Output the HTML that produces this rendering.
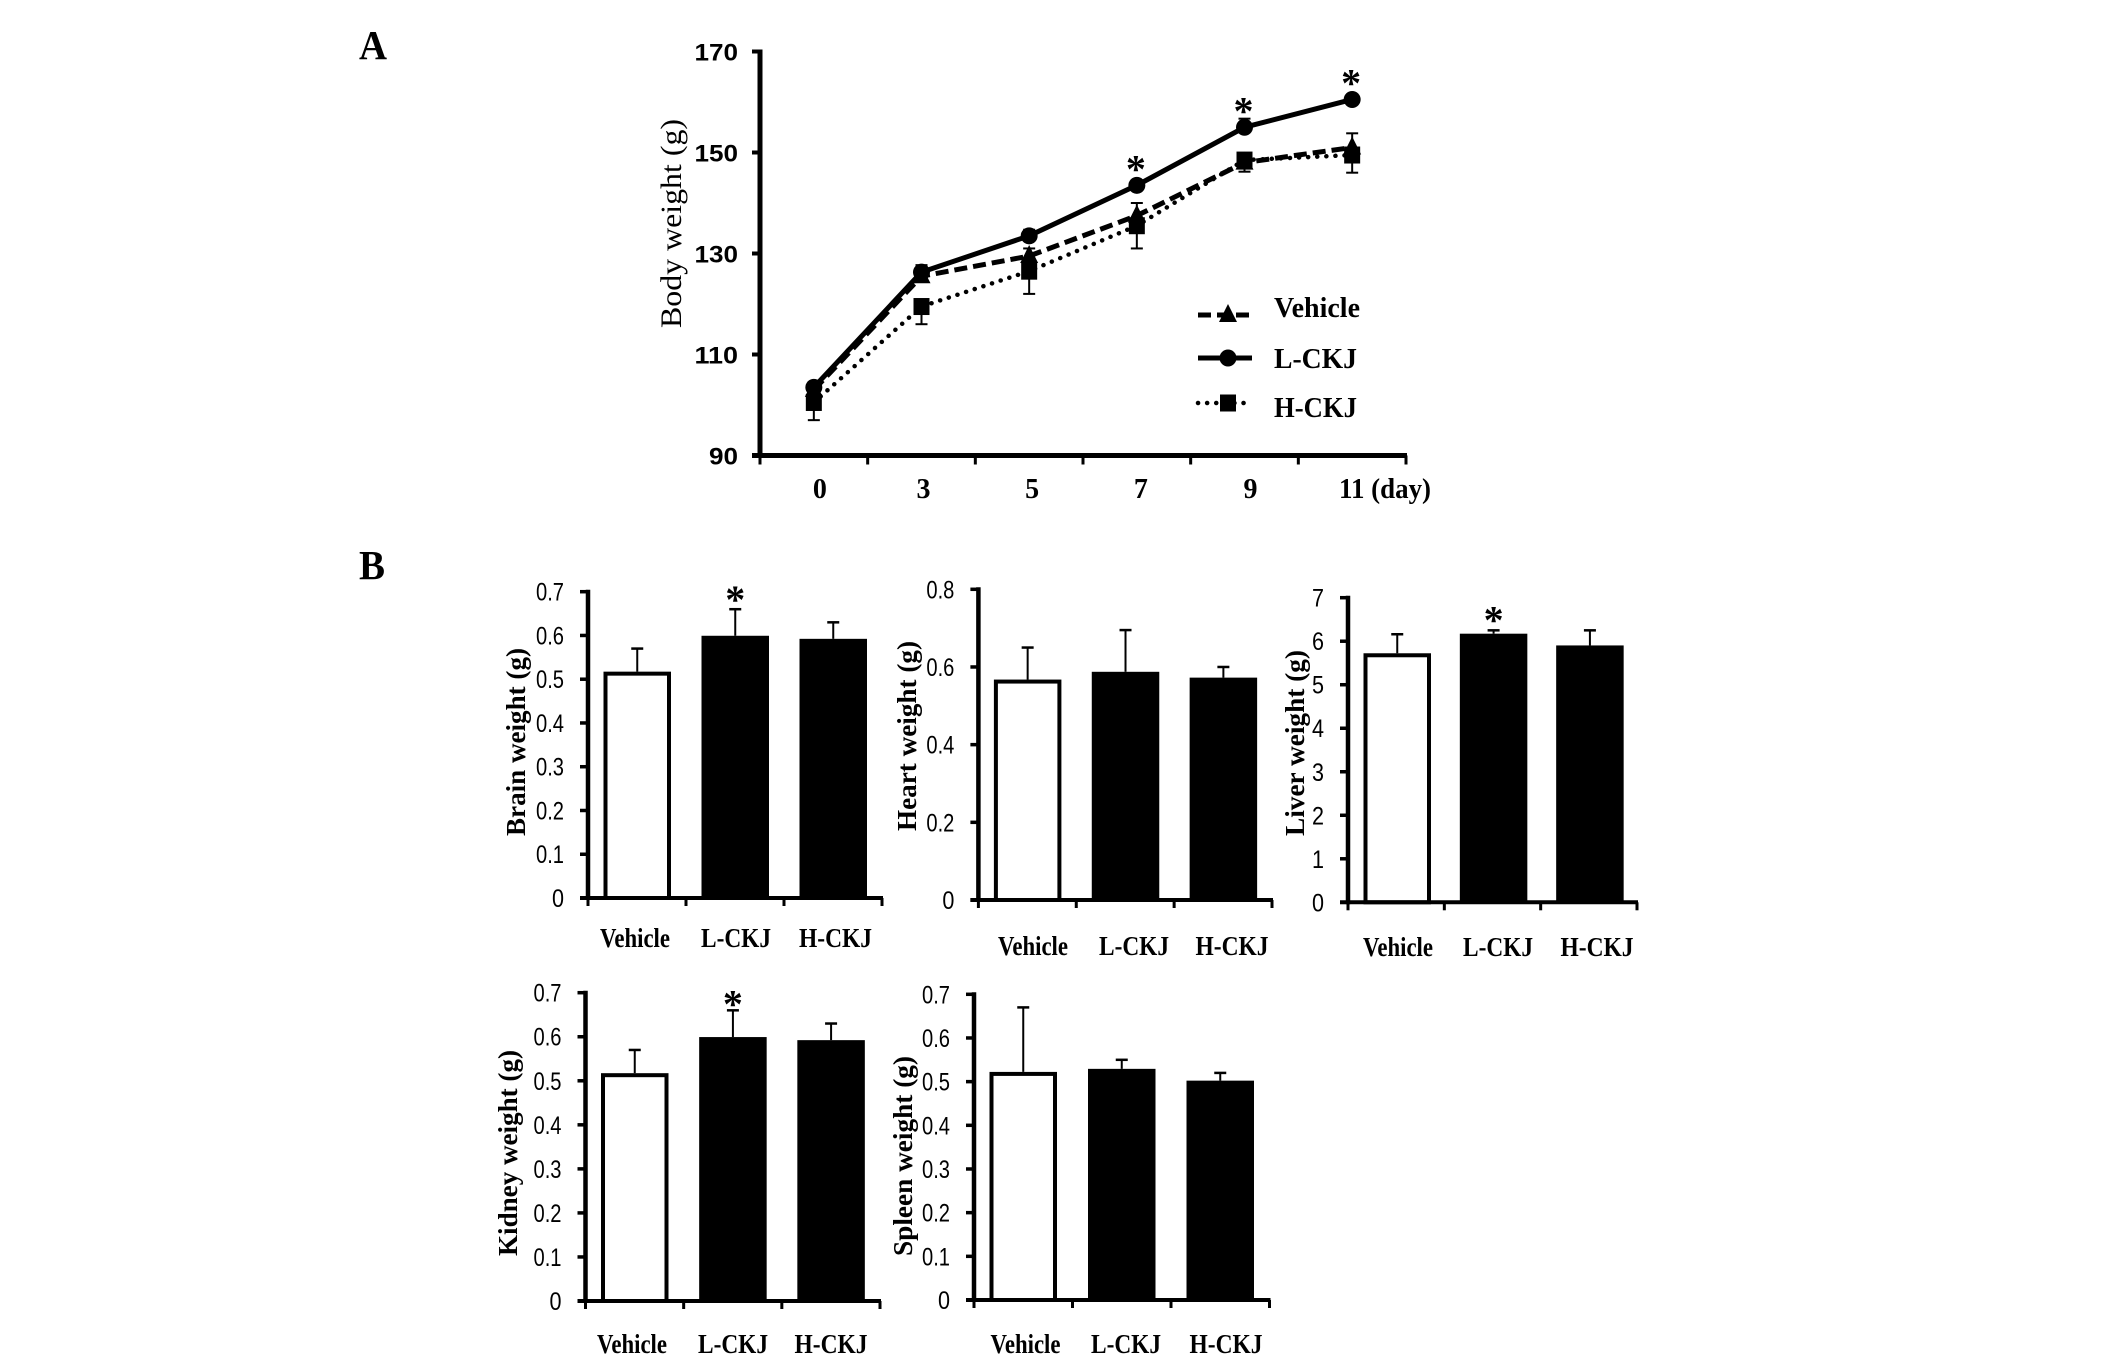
<!DOCTYPE html>
<html>
<head>
<meta charset="utf-8">
<title>Body and organ weight charts</title>
<style>
html,body{margin:0;padding:0;background:#fff;width:2126px;height:1363px;overflow:hidden}
svg{display:block}
text{fill:#000}
.serif{font-family:"Liberation Serif",serif}
.sans{font-family:"Liberation Sans",sans-serif}
</style>
</head>
<body>
<svg id="figure" xmlns="http://www.w3.org/2000/svg" width="2126" height="1363" viewBox="0 0 2126 1363">
  <rect width="2126" height="1363" fill="#fff"/>
  <text class="serif" x="359" y="59" font-size="41" font-weight="bold" textLength="28" lengthAdjust="spacingAndGlyphs">A</text>
  <text class="serif" x="359" y="579" font-size="41" font-weight="bold" textLength="26" lengthAdjust="spacingAndGlyphs">B</text>
</svg>
<script>
// ---- Panel A data ----
const lineCategories = ['0', '3', '5', '7', '9', '11 (day)'];
const lineTickLabels = ['90', '110', '130', '150', '170'];
const lineTickValues = [90, 110, 130, 150, 170];
const vehicleWeights = [103, 125.5, 129.5, 137.5, 148, 151];
const vehicleErrors = [1.5, 2.2, 1.5, 2.5, 1.8, 2.8];
const lckjWeights = [103.5, 126.3, 133.5, 143.5, 155, 160.5];
const lckjErrors = [1, 1, 1.2, 1, 1.7, 1];
const hckjWeights = [100.5, 119.5, 126.5, 135.5, 148.5, 149.5];
const hckjErrors = [3.5, 3.5, 4.5, 4.5, 2.3, 3.5];
const lineSignificant = [false, false, false, true, true, true];

// ---- Panel B data ----
const barCategories = ['Vehicle', 'L-CKJ', 'H-CKJ'];
const ticks07 = ['0', '0.1', '0.2', '0.3', '0.4', '0.5', '0.6', '0.7'];
const ticks08 = ['0', '0.2', '0.4', '0.6', '0.8'];
const ticks7 = ['0', '1', '2', '3', '4', '5', '6', '7'];
const brainValues = [0.515, 0.597, 0.59];
const brainErrors = [0.055, 0.063, 0.04];
const brainStars = [false, true, false];
const heartValues = [0.565, 0.585, 0.57];
const heartErrors = [0.085, 0.11, 0.03];
const heartStars = [false, false, false];
const liverValues = [5.7, 6.15, 5.88];
const liverErrors = [0.46, 0.1, 0.37];
const liverStars = [false, true, false];
const kidneyValues = [0.515, 0.597, 0.59];
const kidneyErrors = [0.055, 0.063, 0.04];
const kidneyStars = [false, true, false];
const spleenValues = [0.52, 0.527, 0.5];
const spleenErrors = [0.15, 0.023, 0.02];
const spleenStars = [false, false, false];

const svg = document.getElementById('figure');

function mk(parent, tag, attrs, name, text) {
  const el = document.createElementNS('http://www.w3.org/2000/svg', tag);
  for (const k in attrs) el.setAttribute(k, attrs[k]);
  
  
  if (text !== undefined) el.textContent = text;
  parent.appendChild(el);
  return el;
}
function line(parent, x1, y1, x2, y2, w, name) {
  return mk(parent, 'line', { x1, y1, x2, y2, stroke: '#000', 'stroke-width': w }, name);
}
function star(parent, x, cy, name) {
  return mk(parent, 'text', { class: 'serif', x, y: cy + 19, 'font-size': 40, 'font-weight': 'bold', 'text-anchor': 'middle' }, name, '*');
}

// ---- Panel A ----
(function drawLineChart() {
  const g = mk(svg, 'g', {}, 'body-weight-chart');
  const axisX = 760, right = 1406, yTop = 51.5, yBottom = 455.5;
  const step = (right - axisX) / lineCategories.length;
  const sx = i => axisX + step * (i + 0.5);
  const sy = v => yBottom - (v - lineTickValues[0]) / (lineTickValues[lineTickValues.length - 1] - lineTickValues[0]) * (yBottom - yTop);

  line(g, axisX, yTop - 2, axisX, yBottom + 2, 5, 'y-axis');
  line(g, axisX - 8, yBottom, right + 1, yBottom, 5, 'x-axis');
  lineTickValues.forEach((v, i) => {
    line(g, axisX - 8, sy(v), axisX, sy(v), 4, 'y-tick');
    mk(g, 'text', { class: 'sans', x: 738, y: sy(v) + 9, 'font-size': 24, 'font-weight': 'bold', 'text-anchor': 'end', textLength: lineTickLabels[i].length * 14.5, lengthAdjust: 'spacingAndGlyphs' }, 'y-tick-label', lineTickLabels[i]);
  });
  for (let i = 0; i <= lineCategories.length; i++) {
    line(g, axisX + step * i, yBottom, axisX + step * i, yBottom + 9, 3, 'x-tick');
  }
  const labelNudge = [6, 2, 3, 4, 6];
  lineCategories.forEach((c, i) => {
    const isLast = i === lineCategories.length - 1;
    const attrs = { class: 'serif', x: isLast ? 1339 : sx(i) + labelNudge[i], y: 498, 'font-size': 28, 'font-weight': 'bold', 'text-anchor': isLast ? 'start' : 'middle' };
    if (isLast) { attrs.textLength = 92; attrs.lengthAdjust = 'spacingAndGlyphs'; }
    mk(g, 'text', attrs, 'x-tick-label', c);
  });
  mk(g, 'text', { class: 'serif', transform: 'translate(681,328) rotate(-90)', x: 0, y: 0, 'font-size': 30, textLength: 209, lengthAdjust: 'spacingAndGlyphs' }, 'y-axis-title', 'Body weight (g)');

  const series = [
    { name: 'vehicle', values: vehicleWeights, errors: vehicleErrors, dir: 1, dash: '13 6', width: 5, cap: 'butt', marker: 'tri' },
    { name: 'h-ckj', values: hckjWeights, errors: hckjErrors, dir: -1, dash: '0.1 9', width: 4.5, cap: 'round', marker: 'sq' },
    { name: 'l-ckj', values: lckjWeights, errors: lckjErrors, dir: 1, dash: 'none', width: 5, cap: 'butt', marker: 'circ' }
  ];
  function marker(parent, type, x, y, name) {
    if (type === 'circ') return mk(parent, 'circle', { cx: x, cy: y, r: 8.5 }, name);
    if (type === 'sq') return mk(parent, 'rect', { x: x - 8, y: y - 8.5, width: 16, height: 17 }, name);
    return mk(parent, 'polygon', { points: `${x},${y - 11} ${x + 9},${y + 7} ${x - 9},${y + 7}` }, name);
  }
  series.forEach(s => {
    const sg = mk(g, 'g', {}, 'series-' + s.name);
    s.values.forEach((v, i) => {
      const y1 = sy(v), y2 = sy(v + s.dir * s.errors[i]);
      line(sg, sx(i), y1, sx(i), y2, 2, 'error-bar');
      line(sg, sx(i) - 6, y2, sx(i) + 6, y2, 2, 'error-cap');
    });
    const pts = s.values.map((v, i) => sx(i) + ',' + sy(v)).join(' ');
    mk(sg, 'polyline', { points: pts, fill: 'none', stroke: '#000', 'stroke-width': s.width, 'stroke-dasharray': s.dash, 'stroke-linecap': s.cap }, 'line-' + s.name);
    s.values.forEach((v, i) => marker(sg, s.marker, sx(i), sy(v), 'point-' + s.name));
  });
  lineSignificant.forEach((sig, i) => {
    if (sig) star(g, sx(i) - 1, sy(lckjWeights[i]) - 22, 'significance-star');
  });

  const legendRows = [
    { label: 'Vehicle', y: 315, textY: 317, dash: '13 6', width: 5, cap: 'butt', marker: 'tri', name: 'vehicle' },
    { label: 'L-CKJ', y: 358, textY: 368, dash: 'none', width: 5, cap: 'butt', marker: 'circ', name: 'l-ckj' },
    { label: 'H-CKJ', y: 403, textY: 417, dash: '0.1 9', width: 4.5, cap: 'round', marker: 'sq', name: 'h-ckj' }
  ];
  legendRows.forEach(r => {
    const lg = mk(g, 'g', {}, 'legend-entry-' + r.name);
    mk(lg, 'line', { x1: 1198, y1: r.y, x2: 1252, y2: r.y, stroke: '#000', 'stroke-width': r.width, 'stroke-dasharray': r.dash, 'stroke-linecap': r.cap }, 'legend-line');
    marker(lg, r.marker, 1228, r.y, 'legend-marker');
    mk(lg, 'text', { class: 'serif', x: 1274, y: r.textY, 'font-size': 28, 'font-weight': 'bold', textLength: r.name === 'vehicle' ? 86 : 83, lengthAdjust: 'spacingAndGlyphs' }, 'legend-label', r.label);
  });
})();

// ---- Panel B ----
function drawBarPanel(name, title, values, errors, stars, tickLabels, maxValue, geo) {
  const g = mk(svg, 'g', {}, name + '-chart');
  const step = (geo.right - geo.axisX) / barCategories.length;
  const sy = v => geo.y0 - v / maxValue * (geo.y0 - geo.yTop);
  const barOffset = 15.5, barWidth = 67.5;

  // bars and error bars
  values.forEach((v, i) => {
    const x = geo.axisX + step * i + barOffset;
    const cx = x + barWidth / 2;
    const yTopErr = sy(v + errors[i]);
    const barTop = sy(v) - 1;
    line(g, cx, barTop, cx, yTopErr, 2, 'error-bar');
    line(g, cx - 6, yTopErr, cx + 6, yTopErr, 2.5, 'error-cap');
    if (i === 0) {
      mk(g, 'rect', { x: x + 2, y: barTop + 2, width: barWidth - 4, height: geo.y0 - barTop - 2, fill: '#fff', stroke: '#000', 'stroke-width': 4 }, 'bar-' + barCategories[i].toLowerCase());
    } else {
      mk(g, 'rect', { x: x, y: barTop, width: barWidth, height: geo.y0 - barTop, fill: '#000' }, 'bar-' + barCategories[i].toLowerCase());
    }
    if (stars[i]) star(g, cx, yTopErr - geo.starGap, 'significance-star');
  });

  // axes
  line(g, geo.axisX, geo.yTop - 2, geo.axisX, geo.y0 + 2, 4.5, 'y-axis');
  line(g, geo.axisX - 8, geo.y0, geo.right + 1, geo.y0, 4, 'x-axis');
  tickLabels.forEach((t, i) => {
    const y = geo.y0 - (geo.y0 - geo.yTop) * i / (tickLabels.length - 1);
    line(g, geo.axisX - 8, y, geo.axisX, y, 3.5, 'y-tick');
    mk(g, 'text', { class: 'sans', x: geo.axisX - 24, y: y + 9, 'font-size': 25, 'text-anchor': 'end', textLength: t.length === 1 ? 12 : 28, lengthAdjust: 'spacingAndGlyphs' }, 'y-tick-label', t);
  });
  for (let i = 0; i <= barCategories.length; i++) {
    line(g, geo.axisX + step * i, geo.y0, geo.axisX + step * i, geo.y0 + 8, 3, 'x-tick');
  }
  barCategories.forEach((c, i) => {
    mk(g, 'text', { class: 'serif', x: geo.labelX[i], y: geo.labelY, 'font-size': 27, 'font-weight': 'bold', 'text-anchor': 'middle', textLength: i === 2 ? 73 : 70, lengthAdjust: 'spacingAndGlyphs' }, 'x-tick-label', c);
  });
  mk(g, 'text', { class: 'serif', transform: `translate(${geo.titleX},${geo.titleY}) rotate(-90)`, x: 0, y: 0, 'font-size': 27, 'font-weight': 'bold', textLength: geo.titleLen, lengthAdjust: 'spacingAndGlyphs' }, 'y-axis-title', title);
}

drawBarPanel('brain', 'Brain weight (g)', brainValues, brainErrors, brainStars, ticks07, 0.7,
  { axisX: 588, right: 882, yTop: 591.7, y0: 898, labelX: [635, 736, 835.5], labelY: 947, titleX: 525, titleY: 836, titleLen: 188, starGap: 15 });
drawBarPanel('heart', 'Heart weight (g)', heartValues, heartErrors, heartStars, ticks08, 0.8,
  { axisX: 978.4, right: 1272, yTop: 589.3, y0: 900, labelX: [1033, 1134, 1232], labelY: 955, titleX: 916, titleY: 831, titleLen: 190, starGap: 17 });
drawBarPanel('liver', 'Liver weight (g)', liverValues, liverErrors, liverStars, ticks7, 7,
  { axisX: 1348, right: 1637, yTop: 597.7, y0: 902.3, labelX: [1398, 1498, 1597], labelY: 956, titleX: 1304, titleY: 836, titleLen: 186, starGap: 16 });
drawBarPanel('kidney', 'Kidney weight (g)', kidneyValues, kidneyErrors, kidneyStars, ticks07, 0.7,
  { axisX: 585.5, right: 880, yTop: 992.7, y0: 1301, labelX: [632, 733, 831], labelY: 1353, titleX: 517, titleY: 1256, titleLen: 206, starGap: 12 });
drawBarPanel('spleen', 'Spleen weight (g)', spleenValues, spleenErrors, spleenStars, ticks07, 0.7,
  { axisX: 974, right: 1269.5, yTop: 994.3, y0: 1300, labelX: [1025.5, 1126, 1226], labelY: 1353, titleX: 912, titleY: 1256, titleLen: 200, starGap: 13 });
</script>
</body>
</html>
